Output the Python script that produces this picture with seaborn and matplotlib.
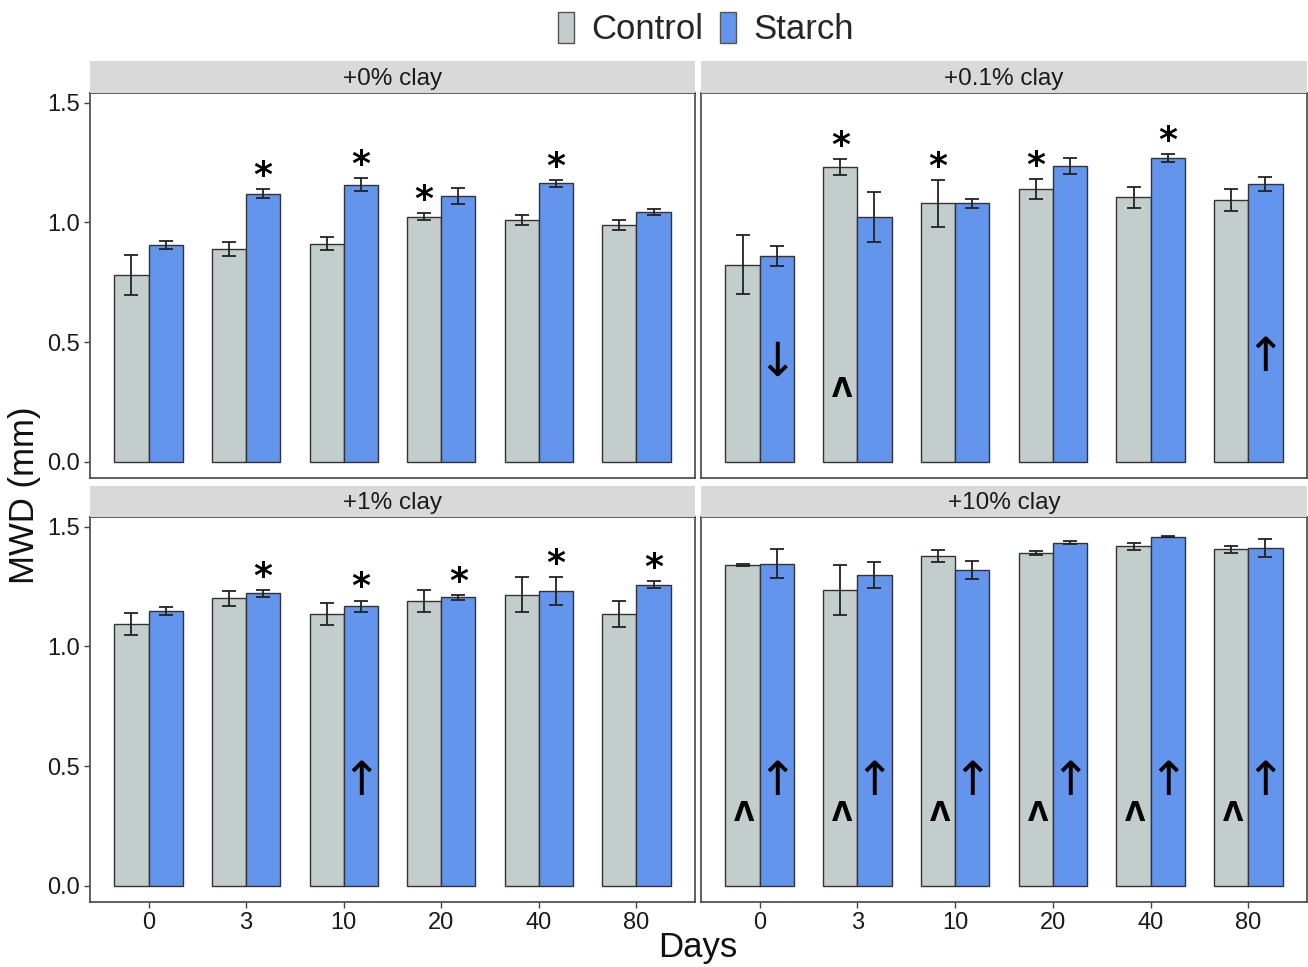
import numpy as np
import pandas as pd
import matplotlib
matplotlib.use("Agg")
import matplotlib.pyplot as plt
from matplotlib.patches import Patch
from matplotlib.container import BarContainer
import seaborn as sns

# ---------------- data ----------------
days = ["0", "3", "10", "20", "40", "80"]
treatments = ["Control", "Starch"]
panels = ["+0% clay", "+0.1% clay", "+1% clay", "+10% clay"]

ctrl_0 = [0.78, 0.888, 0.910, 1.024, 1.011, 0.989]
ctrl_0_err = [0.085, 0.028, 0.027, 0.014, 0.020, 0.021]
starch_0 = [0.904, 1.120, 1.158, 1.110, 1.163, 1.043]
starch_0_err = [0.017, 0.020, 0.026, 0.033, 0.015, 0.012]

ctrl_01 = [0.824, 1.230, 1.079, 1.140, 1.105, 1.093]
ctrl_01_err = [0.123, 0.034, 0.097, 0.042, 0.044, 0.047]
starch_01 = [0.861, 1.021, 1.079, 1.236, 1.267, 1.160]
starch_01_err = [0.042, 0.105, 0.018, 0.034, 0.017, 0.030]

ctrl_1 = [1.092, 1.200, 1.135, 1.190, 1.216, 1.135]
ctrl_1_err = [0.046, 0.033, 0.046, 0.046, 0.073, 0.055]
starch_1 = [1.146, 1.221, 1.167, 1.204, 1.230, 1.258]
starch_1_err = [0.017, 0.014, 0.024, 0.010, 0.058, 0.016]

ctrl_10 = [1.339, 1.236, 1.378, 1.390, 1.417, 1.406]
ctrl_10_err = [0.003, 0.103, 0.024, 0.009, 0.013, 0.015]
starch_10 = [1.345, 1.297, 1.320, 1.433, 1.458, 1.410]
starch_10_err = [0.060, 0.054, 0.038, 0.006, 0.003, 0.039]

# significance marks: (day index, treatment index)
stars_0 = [(1, 1), (2, 1), (3, 0), (4, 1)]
stars_01 = [(1, 0), (2, 0), (3, 0), (4, 1)]
stars_1 = [(1, 1), (2, 1), (3, 1), (4, 1), (5, 1)]
stars_10 = []
arrows_up_0, arrows_down_0, carets_0 = [], [], []
arrows_up_01, arrows_down_01, carets_01 = [5], [0], [1]
arrows_up_1, arrows_down_1, carets_1 = [2], [], []
arrows_up_10, arrows_down_10, carets_10 = [0, 1, 2, 3, 4, 5], [], [0, 1, 2, 3, 4, 5]

panel_data = [
    (ctrl_0, ctrl_0_err, starch_0, starch_0_err, stars_0, arrows_up_0, arrows_down_0, carets_0),
    (ctrl_01, ctrl_01_err, starch_01, starch_01_err, stars_01, arrows_up_01, arrows_down_01, carets_01),
    (ctrl_1, ctrl_1_err, starch_1, starch_1_err, stars_1, arrows_up_1, arrows_down_1, carets_1),
    (ctrl_10, ctrl_10_err, starch_10, starch_10_err, stars_10, arrows_up_10, arrows_down_10, carets_10),
]

colors = {"Control": "#C3CDCB", "Starch": "#6495ED"}

# ---------------- figure ----------------
sns.set_theme(style="white")
plt.rcParams["font.family"] = ["Liberation Sans", "DejaVu Sans"]

W, H = 1308, 967
fig = plt.figure(figsize=(W / 100, H / 100), dpi=100)

def frac_rect(x0, y0, x1, y1):
    return [x0 / W, 1 - y1 / H, (x1 - x0) / W, (y1 - y0) / H]

axes_px = [
    (90, 93, 695, 478),
    (701, 93, 1307, 478),
    (90, 517, 695, 902),
    (701, 517, 1307, 902),
]
strip_px = [
    (90, 61, 695, 93),
    (701, 61, 1307, 93),
    (90, 486, 695, 517),
    (701, 486, 1307, 517),
]

for k, (name, pdat) in enumerate(zip(panels, panel_data)):
    c, ce, s, se, stars, aup, adown, carets = pdat
    df = pd.DataFrame({
        "Days": days * 2,
        "Treatment": ["Control"] * len(days) + ["Starch"] * len(days),
        "MWD": list(c) + list(s),
    })
    ax = fig.add_axes(frac_rect(*axes_px[k]))
    sns.barplot(data=df, x="Days", y="MWD", hue="Treatment", order=days,
                hue_order=treatments, palette=colors, saturation=1, width=0.7,
                edgecolor="#333333", linewidth=1.0, errorbar=None,
                legend=False, ax=ax)
    bar_conts = [cn for cn in ax.containers if isinstance(cn, BarContainer)]
    centers = {}
    for ti, cont in enumerate(bar_conts):
        errs = [ce, se][ti]
        for di, bar in enumerate(cont):
            xc = bar.get_x() + bar.get_width() / 2
            h = bar.get_height()
            centers[(di, ti)] = (xc, h, errs[di])
    for (di, ti), (xc, h, e) in centers.items():
        ax.errorbar(xc, h, yerr=e, color="#222222", capsize=5,
                    elinewidth=1.3, capthick=1.3, zorder=5)
    for (di, ti) in stars:
        xc, h, e = centers[(di, ti)]
        ax.text(xc, h + e + 0.055, "*", ha="center", va="center",
                fontsize=26, fontweight="bold", color="black",
                family="DejaVu Sans", zorder=6)
    for di in aup:
        xc, h, e = centers[(di, 1)]
        ax.text(xc, 0.43, "↑", ha="center", va="center", fontsize=34,
                color="black", family="DejaVu Sans", zorder=6)
    for di in adown:
        xc, h, e = centers[(di, 1)]
        ax.text(xc, 0.41, "↓", ha="center", va="center", fontsize=34,
                color="black", family="DejaVu Sans", zorder=6)
    for di in carets:
        xc, h, e = centers[(di, 0)]
        ax.text(xc + 0.02, 0.30, "Λ", ha="center", va="center", fontsize=19,
                fontweight="bold", color="black", family="DejaVu Sans", zorder=6)

    ax.set_xlim(-0.6, 5.6)
    ax.set_ylim(-0.067, 1.54)
    ax.set_yticks([0.0, 0.5, 1.0, 1.5])
    ax.set_yticklabels(["0.0", "0.5", "1.0", "1.5"])
    ax.set_xlabel("")
    ax.set_ylabel("")
    for sp in ax.spines.values():
        sp.set_color("#444444")
        sp.set_linewidth(1.2)
    ax.tick_params(axis="both", which="both", direction="out", length=4,
                   width=1, color="#444444", labelsize=17, labelcolor="#1a1a1a",
                   pad=3, left=True, bottom=True)
    if k % 2 == 1:
        ax.tick_params(axis="y", left=False, labelleft=False)
    if k < 2:
        ax.tick_params(axis="x", bottom=False, labelbottom=False)
    ax.set_facecolor("white")

    # facet strip
    sax = fig.add_axes(frac_rect(*strip_px[k]))
    sax.set_facecolor("#D9D9D9")
    sax.set_xticks([])
    sax.set_yticks([])
    for sp in sax.spines.values():
        sp.set_visible(False)
    sax.text(0.5, 0.45, name, ha="center", va="center", fontsize=17.5,
             color="#1a1a1a", transform=sax.transAxes)

fig.text(698 / W, 1 - 947 / H, "Days", ha="center", va="center", fontsize=25,
         color="#111111")
fig.text(25 / W, 1 - 495 / H, "MWD (mm)", ha="center", va="center", fontsize=25,
         rotation=90, color="#111111")

handles = [Patch(facecolor=colors[t], edgecolor="#555555", linewidth=1.0, label=t)
           for t in treatments]
fig.legend(handles=handles, loc="center", bbox_to_anchor=(706 / W, 1 - 29 / H),
           ncol=2, frameon=False, fontsize=25, handlelength=0.45,
           handleheight=1.0, handletextpad=0.5, columnspacing=0.5)

fig.savefig("out.png", dpi=100, facecolor="white")
